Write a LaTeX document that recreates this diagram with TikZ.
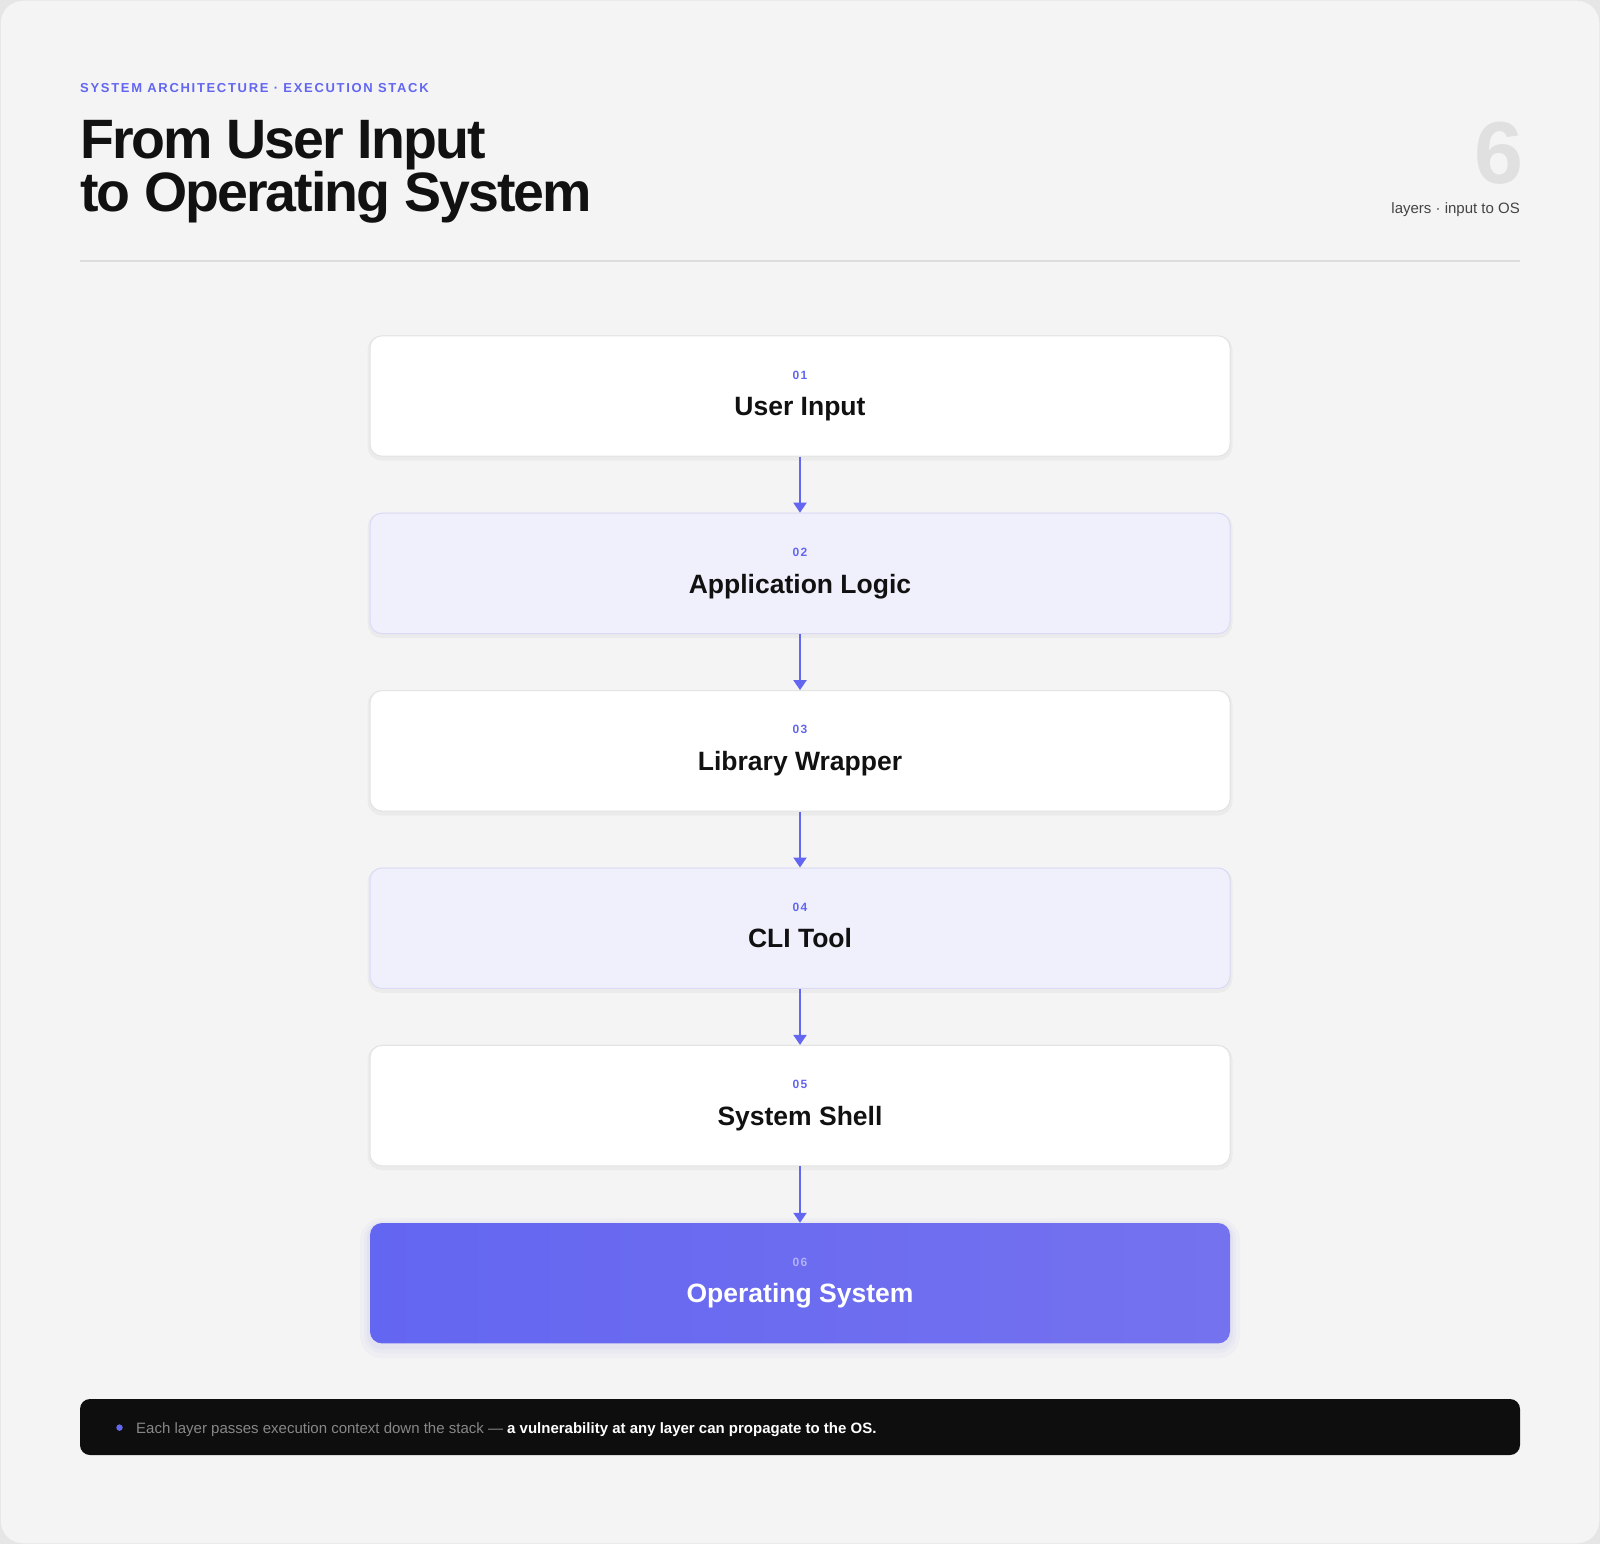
\documentclass[tikz,border=0pt]{standalone}
\usepackage{fontspec}
\setmainfont{Liberation Sans}
\newfontfamily\trackfont[LetterSpace=13]{Liberation Sans}
\newfontfamily\numtrack[LetterSpace=10]{Liberation Sans}
\newfontfamily\tightfont[LetterSpace=-3.5]{Liberation Sans}
\usetikzlibrary{positioning,arrows.meta}

\definecolor{outerbg}{HTML}{E6E6E6}
\definecolor{pagebg}{HTML}{F4F4F4}
\definecolor{cardedge}{HTML}{E2E2E2}
\definecolor{indigo}{HTML}{6366F1}
\definecolor{indigoR}{HTML}{7572EF}
\definecolor{ink}{HTML}{111111}
\definecolor{tint}{HTML}{F0F0FD}
\definecolor{tintline}{HTML}{DADAF7}
\definecolor{boxline}{HTML}{E3E3E3}
\definecolor{rulegray}{HTML}{DDDDDD}
\definecolor{ghost}{HTML}{E0E0E0}
\definecolor{notegray}{HTML}{444444}
\definecolor{footbg}{HTML}{0E0E0E}
\definecolor{footgray}{HTML}{878787}
\definecolor{osnum}{HTML}{B3B1F8}

\tikzset{
  eyebrow/.style={anchor=base west, inner sep=0pt, text=indigo,
    font=\trackfont\bfseries\fontsize{13}{13}\selectfont},
  headline/.style={anchor=base west, inner sep=0pt, text=ink,
    font=\tightfont\bfseries\fontsize{55.5}{55.5}\selectfont},
  bignum/.style={anchor=base east, inner sep=0pt, text=ghost,
    font=\bfseries\fontsize{88}{88}\selectfont},
  countcap/.style={anchor=base east, inner sep=0pt, text=notegray,
    font=\fontsize{15}{15}\selectfont},
  divider/.style={draw=rulegray, line width=1.5pt},
  softshadow/.style={preaction={draw=black, draw opacity=0.035, line width=5pt,
    transform canvas={yshift=-2pt}}},
  layerbox/.style={draw=boxline, fill=white, line width=1pt, rounded corners=12pt,
    minimum width=860pt, minimum height=120.4pt, inner sep=0pt, softshadow},
  tintbox/.style={layerbox, fill=tint, draw=tintline},
  osglow/.style={preaction={draw=indigo, draw opacity=#1, line width=20pt,
    transform canvas={yshift=-5pt}}},
  osbox/.style={draw=none, rounded corners=12pt, minimum width=860pt,
    minimum height=120.4pt, inner sep=0pt, left color=indigo, right color=indigoR,
    osglow=0.03,
    preaction={draw=indigo, draw opacity=0.04, line width=12pt, transform canvas={yshift=-4pt}},
    preaction={draw=indigo, draw opacity=0.05, line width=6pt, transform canvas={yshift=-3pt}}},
  layernum/.style={anchor=base, inner sep=0pt, text=indigo,
    font=\numtrack\bfseries\fontsize{12}{12}\selectfont},
  layername/.style={anchor=base, inner sep=0pt, text=ink,
    font=\bfseries\fontsize{26.5}{26.5}\selectfont},
  flow/.style={draw=indigo, line width=2pt, -{Triangle[width=13pt,length=10pt]}},
  footbar/.style={fill=footbg, rounded corners=10pt, minimum width=1440pt,
    minimum height=56pt, inner sep=0pt},
  bullet/.style={circle, fill=indigo, minimum size=6.5pt, inner sep=0pt},
  foottext/.style={anchor=base west, inner sep=0pt, text=white,
    font=\fontsize{15}{15}\selectfont},
}

\begin{document}
\begin{tikzpicture}[x=1pt,y=-1pt]
\useasboundingbox (0,0) rectangle (1600,1544);
\fill[outerbg] (0,0) rectangle (1600,1544);
\draw[cardedge, fill=pagebg, rounded corners=22pt] (0.5,0.5) rectangle (1599.5,1543.5);

% header
\node[eyebrow] (kicker) at (80,92.5) {SYSTEM ARCHITECTURE · EXECUTION STACK};
\node[headline] (title1) at (80,158) {From User Input};
\node[headline] (title2) at (80,211.5) {to Operating System};
\node[bignum] (count) at (1524,183) {6};
\node[countcap] (countnote) at (1520,213) {layers · input to OS};
\coordinate (rulel) at (80,261);
\coordinate (ruler) at (1520,261);
\draw[divider] (rulel) -- (ruler);

% the stack
\node[layerbox] (l1) at (800,396) {};
\node[tintbox, below=56pt of l1] (l2) {};
\node[layerbox, below=56pt of l2] (l3) {};
\node[tintbox, below=56pt of l3] (l4) {};
\node[layerbox, below=56pt of l4] (l5) {};
\node[osbox, below=56.5pt of l5] (l6) {};

\foreach \i/\num/\name in {1/01/User Input, 2/02/Application Logic,
    3/03/Library Wrapper, 4/04/CLI Tool, 5/05/System Shell} {
  \node[layernum] (n\i) at ([yshift=17pt]l\i.center) {\num};
  \node[layername] (t\i) at ([yshift=-19.7pt]l\i.center) {\name};
}
\node[layernum, text=osnum] (n6) at ([yshift=17pt]l6.center) {06};
\node[layername, text=white] (t6) at ([yshift=-19.7pt]l6.center) {Operating System};

\foreach \i in {1,...,5} {
  \pgfmathtruncatemacro\nxt{\i+1}
  \draw[flow] (l\i) -- (l\nxt);
}

% footer note
\node[footbar] (foot) at (800,1427) {};
\node[bullet] (dot) at (119.5,1427.6) {};
\node[foottext] (note) at (136,1433) {\textcolor{footgray}{Each layer passes execution context down the stack —} \textbf{a vulnerability at any layer can propagate to the OS.}};
\end{tikzpicture}
\end{document}
